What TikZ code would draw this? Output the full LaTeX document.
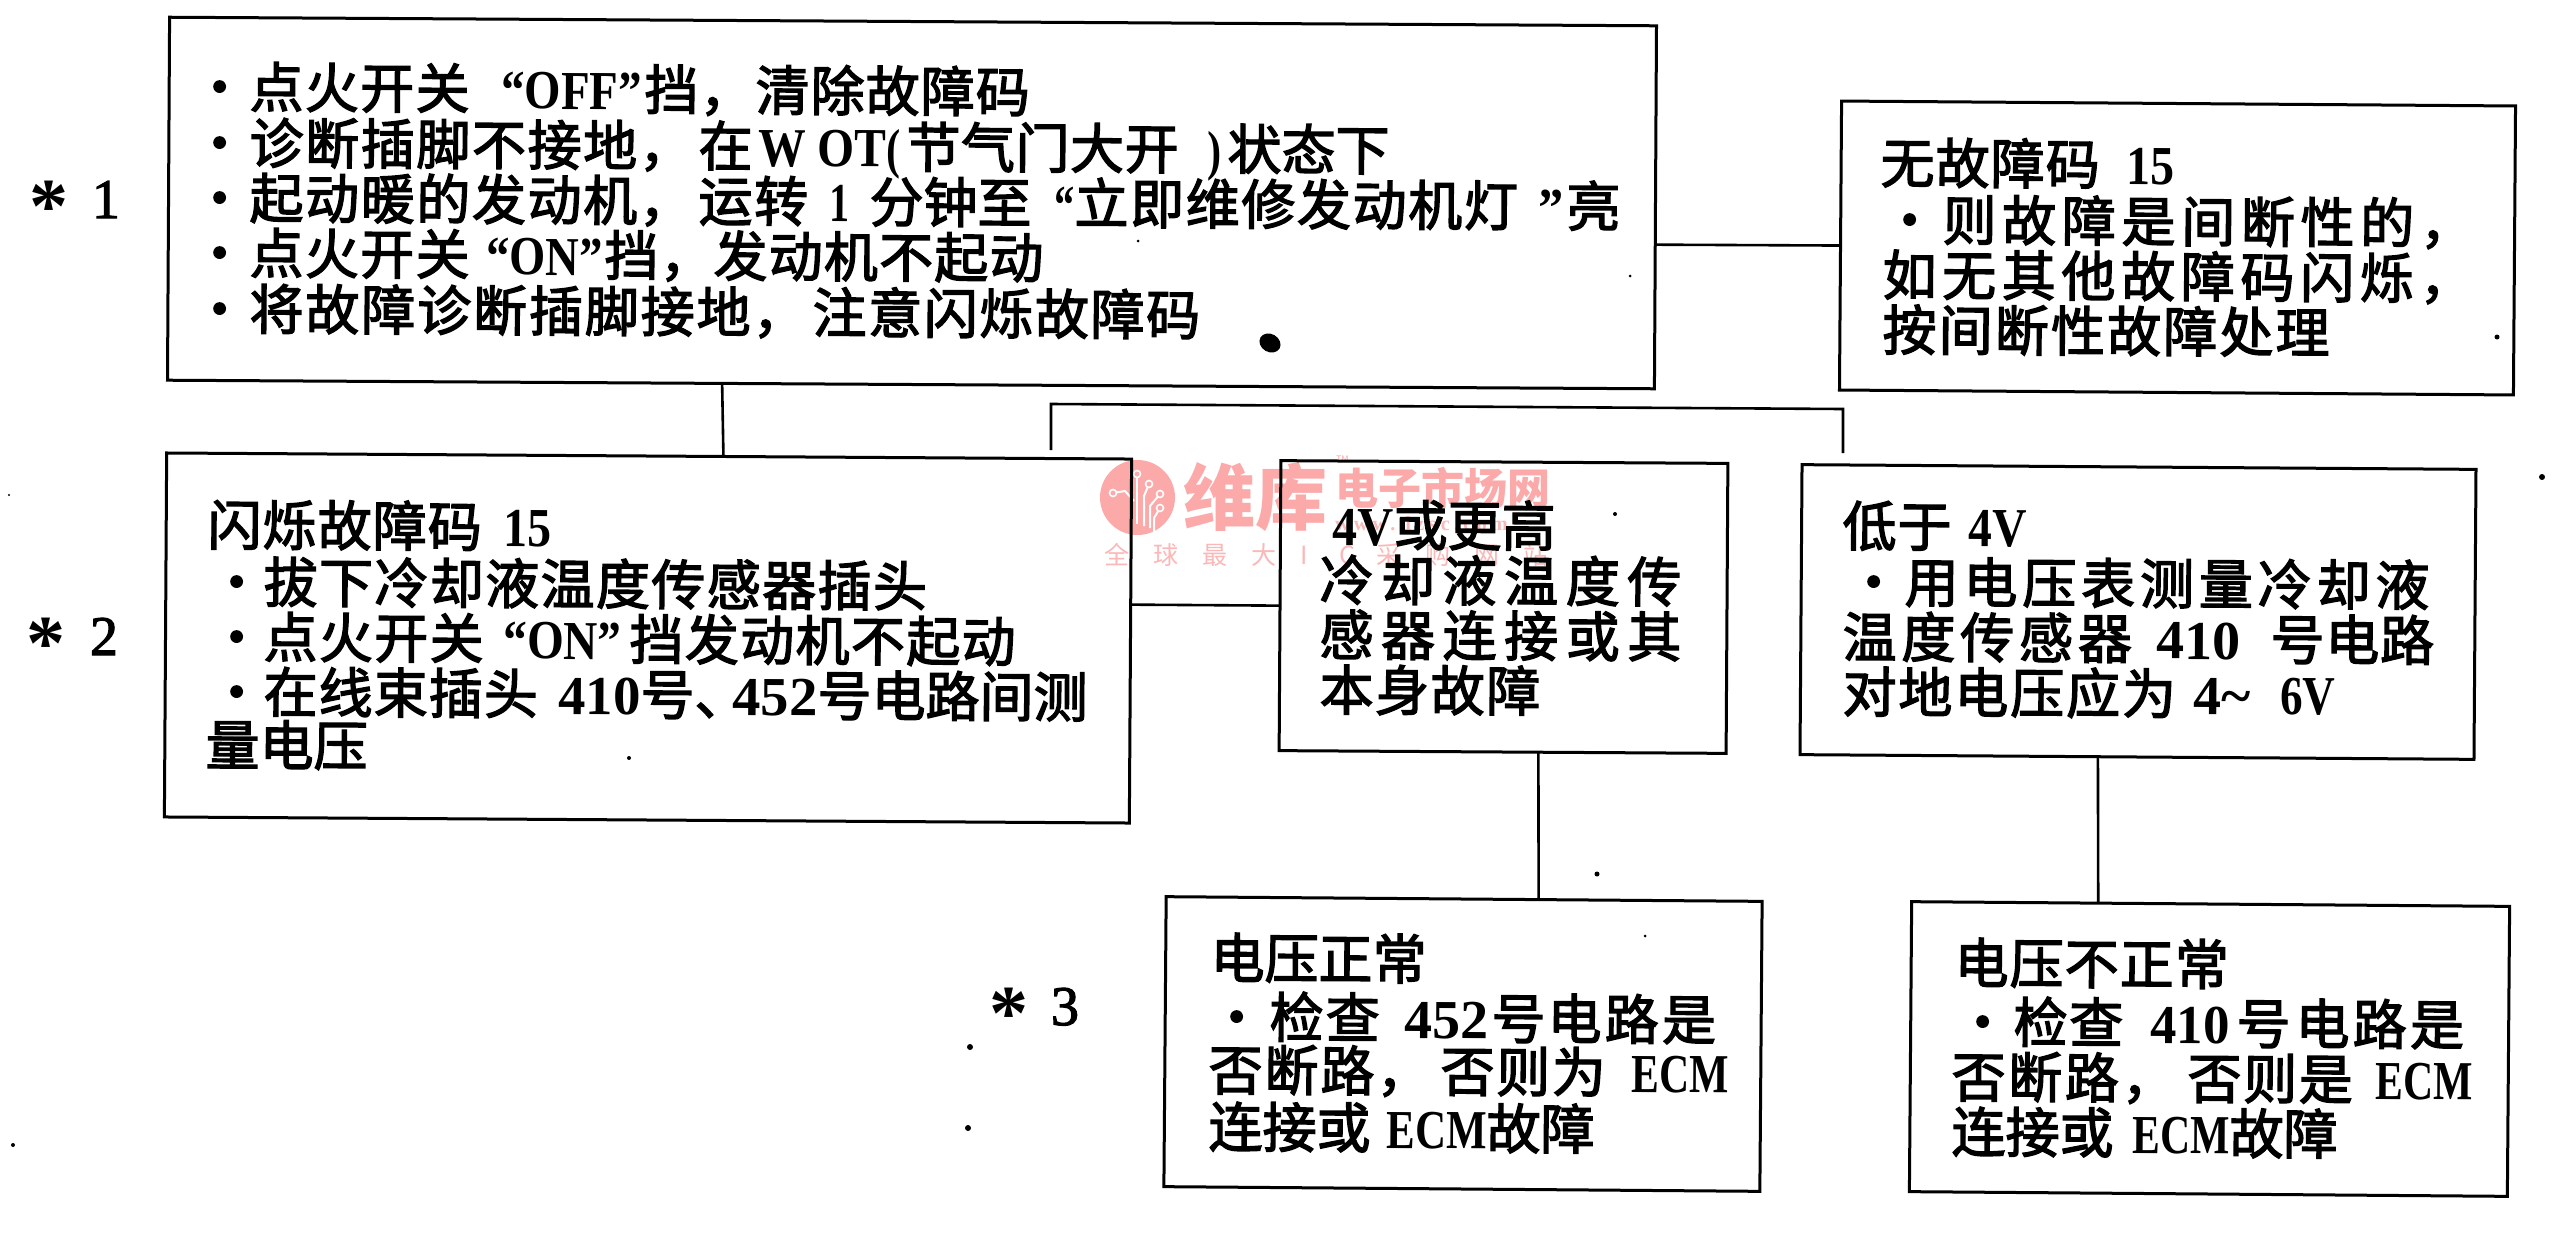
\documentclass[tikz,border=0pt]{standalone}
\usepackage{fontspec}
\usepackage{graphicx}
\usetikzlibrary{calc}
\setmainfont{Noto Sans CJK SC}
\newfontfamily\cjkf[FakeBold=2.5]{Noto Sans CJK SC}
\newfontfamily\wmf{Noto Sans CJK SC}
\newfontfamily\latfam{Liberation Serif}
\newfontfamily\latthick[FakeBold=2]{Liberation Serif}
\newcommand\latf{\latfam\bfseries\fontsize{55}{55}\selectfont}
\definecolor{wmred}{HTML}{FBA9A9}
\definecolor{wmpale}{HTML}{FBB8B8}
\newcommand\tline[4]{\node[tx] (#1) at (#2,#3) {\def\xo{#2}#4};}
\newcommand\sg[3]{\rlap{\hspace*{\dimexpr#1pt-\xo pt\relax}\addfontfeature{LetterSpace=#2}#3}}
\newcommand\bul[1]{\rlap{\hspace*{\dimexpr#1pt-14pt-\xo pt\relax}·}}
\newcommand\lat[3]{\rlap{\hspace*{\dimexpr#1pt-\xo pt\relax}\resizebox{#2pt}{\height}{\latf #3}}}
\newcommand\bx[6]{\node[boxx,minimum width=#4pt,minimum height=#5pt,rotate=#6] (#1) at (#2,#3) {};}
\newcommand\astr{\raisebox{-14pt}{\latfam\bfseries\fontsize{78}{78}\selectfont *}}
\tikzset{
  boxx/.style={draw=black,line width=3pt,inner sep=0pt,outer sep=0pt},
  conn/.style={draw=black,line width=2.6pt},
  tx/.style={anchor=base west,inner sep=0pt,outer sep=0pt,rotate=-0.35,text=black,
     font=\cjkf\fontsize{54}{54}\selectfont},
  mk/.style={anchor=base west,inner sep=0pt,outer sep=0pt,text=black,
     font=\latthick\fontsize{56}{56}\selectfont},
  wm/.style={anchor=base west,inner sep=0pt,outer sep=0pt},
  icon/.style={draw=white,line width=2pt},
  iconc/.style={draw=white,line width=1.6pt,fill=wmred,circle,inner sep=0pt,minimum size=7pt}
}
\begin{document}
\begin{tikzpicture}[x=1pt,y=-1pt]
\useasboundingbox (0,0) rectangle (2573,1248);
\fill[white] (0,0) rectangle (2573,1248);
% watermark
\node[circle,fill=wmred,inner sep=0pt,minimum size=75pt] (wmc) at (1137.5,497.5) {};
\coordinate (i1) at (1113,493); \coordinate (i2) at (1137,474); \coordinate (i3) at (1149,484);
\coordinate (i4) at (1160,494); \coordinate (i5) at (1160,508);
\draw[icon] (i1) -- ++(12,-2) -- ++(9,10);
\draw[icon] (i2) -- ++(0,50);
\draw[icon] (i3) -- ++(-5,12) -- ++(0,30);
\draw[icon] (i4) -- ++(-10,12) -- ++(0,22);
\draw[icon] (i5) -- ++(-6,10) -- ++(0,14);
\foreach \c in {i1,i2,i3,i4,i5} \node[iconc] at (\c) {};
\node[wm,text=wmred,font=\wmf\bfseries\fontsize{72}{72}\selectfont] (wm1) at (1183,524) {维库};
\node[wm,text=wmred,font=\wmf\bfseries\fontsize{43}{43}\selectfont] (wm2) at (1335,504) {电子市场网};
\node[wm,text=wmred,font=\wmf\fontsize{9}{9}\selectfont] (wm3) at (1336,462) {TM};
\node[wm,text=wmpale,font=\latfam\bfseries\fontsize{20}{20}\selectfont] (wm4) at (1335,530) {\addfontfeature{LetterSpace=22}www.dzsc.com};
\node[wm,text=wmpale,font=\wmf\fontsize{25}{25}\selectfont] (wm5) at (1104,564) {\addfontfeature{LetterSpace=96}全球最大};
\node[wm,text=wmpale,font=\wmf\fontsize{25}{25}\selectfont] (wm6) at (1300,564) {\addfontfeature{LetterSpace=130}IC};
\node[wm,text=wmpale,font=\wmf\fontsize{25}{25}\selectfont] (wm7) at (1376,564) {\addfontfeature{LetterSpace=96}采购网站};
% boxes
\bx{b1}{912}{203}{1487}{363}{-0.33}
\bx{nf}{2177.5}{248}{674}{289}{-0.42}
\bx{fl}{648}{638}{965}{364}{-0.36}
\bx{hi}{1503.5}{607}{447}{290}{-0.35}
\bx{lo}{2138}{612}{674}{290}{-0.40}
\bx{ok}{1463}{1044}{596}{290}{-0.45}
\bx{ng}{2209.5}{1049}{598}{290}{-0.45}
% connectors
\draw[conn] ($(b1.south west)!0.373!(b1.south east)$) -- ($(fl.north west)!0.577!(fl.north east)$);
\draw[conn] ($(b1.north east)!0.603!(b1.south east)$) -- (nf.west);
\draw[conn] ($(fl.north east)!0.40!(fl.south east)$) -- (hi.west);
\draw[conn] ($(hi.south west)!0.58!(hi.south east)$) -- ($(ok.north west)!0.625!(ok.north east)$);
\draw[conn] ($(lo.south west)!0.442!(lo.south east)$) -- ($(ng.north west)!0.312!(ng.north east)$);
\coordinate (br1) at (1051,450); \coordinate (br2) at (1051,404);
\coordinate (br3) at (1843,409); \coordinate (br4) at (1843,453);
\draw[conn] (br1) -- (br2) -- (br3) -- (br4);
% box 1
\tline{a1}{206}{107}{\bul{206}\sg{249}{2.5}{点火开关}\lat{501}{140}{“OFF”}\sg{644}{2}{挡，}\sg{755}{2}{清除故障码}}
\tline{a2}{206}{163}{\bul{206}\sg{249}{3}{诊断插脚不接地，}\sg{698}{2}{在}\lat{758}{128}{W OT}\lat{886}{14}{(}\sg{906}{1}{节气门大开}\lat{1207}{14}{)}\sg{1227}{0}{状态下}}
\tline{a3}{206}{218}{\bul{206}\sg{249}{3}{起动暖的发动机，}\sg{698}{3}{运转}\lat{829}{20}{1}\sg{869}{0}{分钟至}\lat{1054}{20}{“}\sg{1074}{3}{立即维修发动机灯}\lat{1538}{25}{”}\sg{1566}{0}{亮}}
\tline{a4}{206}{273}{\bul{206}\sg{249}{2.5}{点火开关}\lat{486}{116}{“ON”}\sg{604}{2}{挡，}\sg{713}{2.2}{发动机不起动}}
\tline{a5}{206}{329}{\bul{206}\sg{249}{3.5}{将故障诊断插脚接地，}\sg{812}{3}{注意闪烁故障码}}
% no-fault box
\tline{n1}{1880}{183}{\sg{1880}{2}{无故障码}\lat{2126}{48}{15}}
\tline{n2}{1896}{240}{\bul{1896}\sg{1942}{10.5}{则故障是间断性的，}}
\tline{n3}{1882}{295}{\sg{1882}{10.5}{如无其他故障码闪烁，}}
\tline{n4}{1882}{350}{\sg{1882}{4}{按间断性故障处理}}
% flash box
\tline{f1}{207}{545}{\sg{207}{2}{闪烁故障码}\lat{503}{48}{15}}
\tline{f2}{223}{602}{\bul{223}\sg{263}{2.6}{拔下冷却液温度传感器插头}}
\tline{f3}{223}{657}{\bul{223}\sg{263}{2.5}{点火开关}\lat{503}{118}{“ON”}\sg{629}{2.5}{挡发动机不起动}}
\tline{f4}{223}{712}{\bul{223}\sg{263}{2}{在线束插头}\lat{558}{82}{410}\sg{640}{0}{号、}\lat{732}{85}{452}\sg{817}{0}{号电路间测}}
\tline{f5}{205}{765}{\sg{205}{0}{量电压}}
% 4V or higher
\tline{v1}{1332}{545}{\lat{1332}{61}{4V}\sg{1393}{0}{或更高}}
\tline{v2}{1319}{600}{\sg{1319}{14}{冷却液温度传}}
\tline{v3}{1319}{655}{\sg{1319}{14}{感器连接或其}}
\tline{v4}{1319}{710}{\sg{1319}{3}{本身故障}}
% below 4V
\tline{l1}{1842}{546}{\sg{1842}{2}{低于}\lat{1968}{58}{4V}}
\tline{l2}{1860}{602}{\bul{1860}\sg{1904}{9}{用电压表测量冷却液}}
\tline{l3}{1842}{657}{\sg{1842}{9}{温度传感器}\lat{2156}{84}{410}\sg{2270}{1.5}{号电路}}
\tline{l4}{1842}{712}{\sg{1842}{3.5}{对地电压应为}\lat{2193}{57}{4\textasciitilde}\lat{2280}{55}{6V}}
% voltage normal
\tline{o1}{1210}{978}{\sg{1210}{0}{电压正常}}
\tline{o2}{1223}{1037}{\bul{1223}\sg{1269}{4}{检查}\lat{1404}{84}{452}\sg{1491}{0}{号}\sg{1547}{6}{电路是}}
\tline{o3}{1208}{1090}{\sg{1208}{3.7}{否断路，}\sg{1440}{3}{否则为}\lat{1631}{97}{ECM}}
\tline{o4}{1208}{1147}{\sg{1208}{0}{连接或}\lat{1386}{100}{ECM}\sg{1486}{0}{故障}}
% voltage abnormal
\tline{g1}{1954}{983}{\sg{1954}{2}{电压不正常}}
\tline{g2}{1969}{1042}{\bul{1969}\sg{2013}{3}{检查}\lat{2150}{79}{410}\sg{2236}{0}{号}\sg{2295}{6}{电路是}}
\tline{g3}{1951}{1097}{\sg{1951}{5}{否断路，}\sg{2187}{3}{否则是}\lat{2375}{97}{ECM}}
\tline{g4}{1951}{1152}{\sg{1951}{0}{连接或}\lat{2132}{97}{ECM}\sg{2229}{0}{故障}}
% step markers
\node[mk] (m1) at (29,218) {\astr\hspace*{24pt}1};
\node[mk] (m2) at (26,655) {\astr\hspace*{25pt}2};
\node[mk] (m3) at (989,1025) {\astr\hspace*{23pt}3};
% scan specks
\fill[black,rotate around={-30:(1270,343)}] (1270,343) ellipse [x radius=11pt,y radius=9pt];
\foreach \px/\py/\pr in {970/1047/3,968/1128/3,1597/874/2.5,1645/936/1.5,2497/337/2.5,2542/477/3,13/1145/2,629/758/2,1615/514/2,9/495/1.2,1630/276/1.5,1138/241/1.5}
  \fill[black] (\px,\py) circle [radius=\pr pt];
\end{tikzpicture}
\end{document}
